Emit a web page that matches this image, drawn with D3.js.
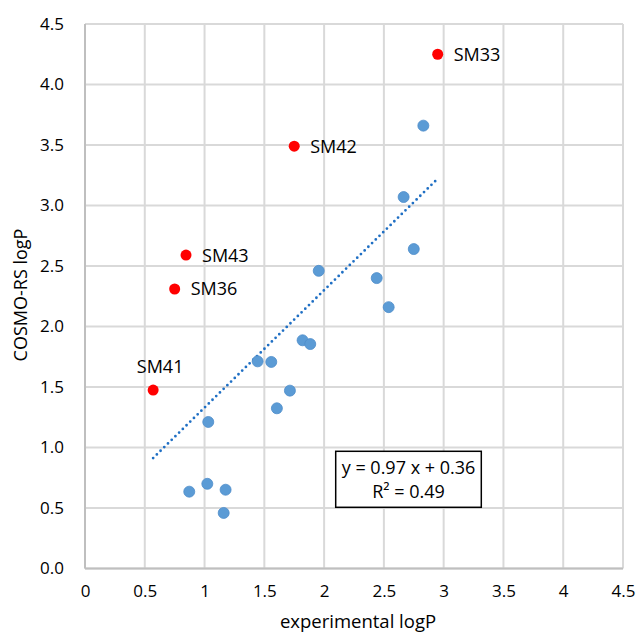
<!DOCTYPE html>
<html lang="en">
<head>
    <meta charset="UTF-8">
    <title>COSMO-RS logP vs experimental logP</title>
    <script src="https://cdnjs.cloudflare.com/ajax/libs/d3/7.8.5/d3.min.js"></script>
</head>

<style>
body { margin: 0; background: #fff; }
svg text { font-family: "Open Sans", "Liberation Sans", sans-serif; fill: #000; }
.grid line { stroke: #d9d9d9; stroke-width: 2px; }
</style>

<body>
<script>

    // values
    var blueX = [2.83, 2.665, 2.75, 1.955, 2.44, 2.54, 1.82, 1.884, 1.444, 1.558, 1.714, 1.605, 1.031, 1.023, 0.872, 1.176, 1.16];
    var blueY = [3.66, 3.07, 2.64, 2.46, 2.40, 2.16, 1.886, 1.855, 1.712, 1.707, 1.47, 1.324, 1.211, 0.70, 0.635, 0.651, 0.459];

    var redNames = ["SM33", "SM42", "SM43", "SM36", "SM41"];
    var redX = [2.95, 1.75, 0.845, 0.75, 0.57];
    var redY = [4.25, 3.49, 2.59, 2.31, 1.475];

    var xTicks = [0, 0.5, 1, 1.5, 2, 2.5, 3, 3.5, 4, 4.5];
    var yTicks = [0, 0.5, 1, 1.5, 2, 2.5, 3, 3.5, 4, 4.5];

    var slope = 0.97, intercept = 0.36, r2 = 0.49;

    var W = 636, H = 634;
    var margin = {top: 24, right: 13, bottom: 65.5, left: 85};

    var svg = d3.select("body").append("svg")
        .attr("width", W)
        .attr("height", H);

    var x = d3.scaleLinear().domain([0, 4.5]).range([margin.left, W - margin.right]);
    var y = d3.scaleLinear().domain([0, 4.5]).range([H - margin.bottom, margin.top]);

    // gridlines
    var grid = svg.append("g").attr("class", "grid");
    grid.selectAll("line.v")
        .data(xTicks)
        .enter().append("line")
        .attr("class", "v")
        .attr("x1", function(d) { return x(d); })
        .attr("x2", function(d) { return x(d); })
        .attr("y1", y(0))
        .attr("y2", y(4.5));
    grid.selectAll("line.h")
        .data(yTicks)
        .enter().append("line")
        .attr("class", "h")
        .attr("x1", x(0))
        .attr("x2", x(4.5))
        .attr("y1", function(d) { return y(d); })
        .attr("y2", function(d) { return y(d); });

    // left and bottom axis lines a bit darker
    svg.append("line")
        .attr("x1", x(0)).attr("x2", x(0))
        .attr("y1", y(0)).attr("y2", y(4.5))
        .attr("stroke", "#bfbfbf").attr("stroke-width", 2);
    svg.append("line")
        .attr("x1", x(0)).attr("x2", x(4.5))
        .attr("y1", y(0)).attr("y2", y(0))
        .attr("stroke", "#bfbfbf").attr("stroke-width", 2);

    // tick labels via d3 axes, with the axis lines hidden
    var xAxis = svg.append("g")
        .attr("transform", "translate(0," + y(0) + ")")
        .call(d3.axisBottom(x).tickValues(xTicks).tickSize(0).tickPadding(16).tickFormat(d3.format("")));
    var yAxis = svg.append("g")
        .attr("transform", "translate(" + x(0) + ",0)")
        .call(d3.axisLeft(y).tickValues(yTicks).tickSize(0).tickPadding(21).tickFormat(d3.format(".1f")));
    [xAxis, yAxis].forEach(function(a) {
        a.select(".domain").remove();
        a.selectAll("text")
            .style("font-family", "'Open Sans', sans-serif")
            .style("font-size", "17px")
            .attr("fill", "#000");
    });

    // trendline
    var xr = d3.extent(blueX.concat(redX));
    svg.append("line")
        .attr("x1", x(xr[0])).attr("y1", y(slope * xr[0] + intercept))
        .attr("x2", x(xr[1])).attr("y2", y(slope * xr[1] + intercept))
        .attr("stroke", "#1f6fc4")
        .attr("stroke-width", 2.8)
        .attr("stroke-linecap", "round")
        .attr("stroke-dasharray", "0,5.2");

    // blue points
    svg.selectAll("circle.blue")
        .data(d3.range(blueX.length))
        .enter().append("circle")
        .attr("class", "blue")
        .attr("cx", function(i) { return x(blueX[i]); })
        .attr("cy", function(i) { return y(blueY[i]); })
        .attr("r", 5.5)
        .attr("fill", "#5b9bd5")
        .attr("stroke", "#4e8dca")
        .attr("stroke-width", 0.8);

    // red points with labels
    svg.selectAll("circle.red")
        .data(d3.range(redX.length))
        .enter().append("circle")
        .attr("class", "red")
        .attr("cx", function(i) { return x(redX[i]); })
        .attr("cy", function(i) { return y(redY[i]); })
        .attr("r", 5.5)
        .attr("fill", "#ff0000");

    svg.selectAll("text.lbl")
        .data(d3.range(redX.length))
        .enter().append("text")
        .attr("class", "lbl")
        .attr("x", function(i) {
            return redNames[i] == "SM41" ? x(redX[i]) + 7 : x(redX[i]) + 16;
        })
        .attr("y", function(i) {
            return redNames[i] == "SM41" ? y(redY[i]) - 17 : y(redY[i]) + 6.5;
        })
        .attr("text-anchor", function(i) { return redNames[i] == "SM41" ? "middle" : "start"; })
        .style("font-size", "18px")
        .text(function(i) { return redNames[i]; });

    // equation box
    var bx = 335.7, by = 451.3, bw = 145.6, bh = 56;
    svg.append("rect")
        .attr("x", bx).attr("y", by)
        .attr("width", bw).attr("height", bh)
        .attr("fill", "#fff")
        .attr("stroke", "#000")
        .attr("stroke-width", 1.5);
    svg.append("text")
        .attr("x", bx + bw / 2).attr("y", by + 23)
        .attr("text-anchor", "middle")
        .style("font-size", "18px")
        .text("y = " + slope.toFixed(2) + " x + " + intercept.toFixed(2));
    svg.append("text")
        .attr("x", bx + bw / 2).attr("y", by + 47)
        .attr("text-anchor", "middle")
        .style("font-size", "18px")
        .text("R² = " + r2.toFixed(2));

    // axis titles
    svg.append("text")
        .attr("x", 358).attr("y", 628)
        .attr("text-anchor", "middle")
        .style("font-size", "18.5px")
        .text("experimental logP");

    svg.append("text")
        .attr("transform", "translate(27,295) rotate(-90)")
        .attr("text-anchor", "middle")
        .style("font-size", "18px")
        .text("COSMO-RS logP");

</script>
</body>
</html>
